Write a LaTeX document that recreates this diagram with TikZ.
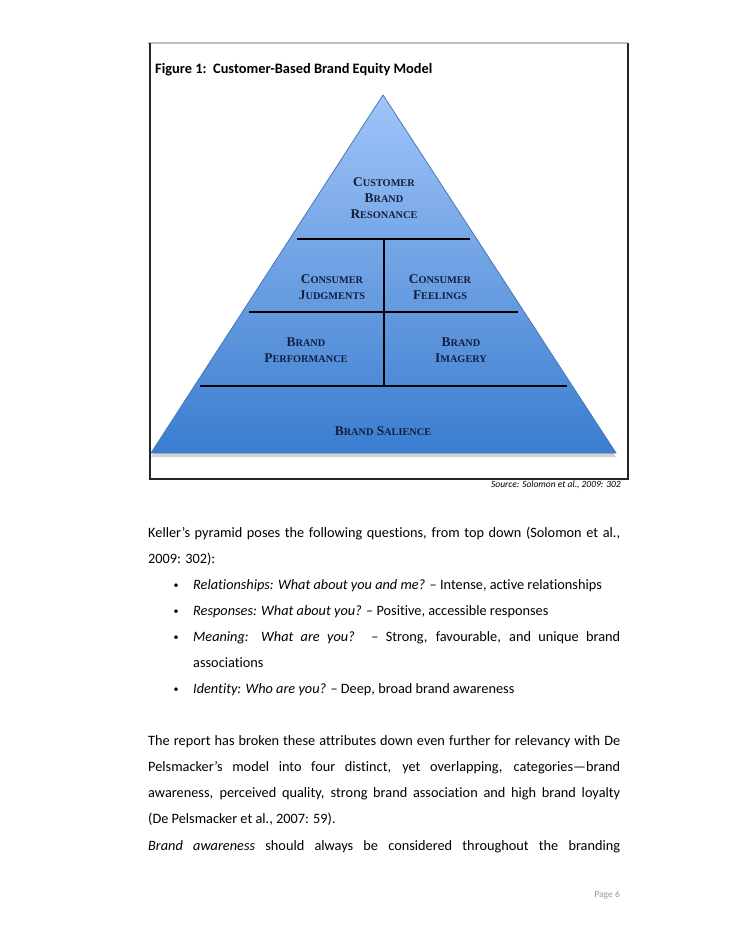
\documentclass[tikz,border=0pt]{standalone}
\usepackage{fontspec}
\setmainfont{Carlito}[Ligatures=NoCommon]
\newfontfamily\capsfont{Liberation Serif}
\usetikzlibrary{shadows}
\definecolor{pyrtop}{RGB}{160,196,248}
\definecolor{pyrbot}{RGB}{58,125,207}
\definecolor{pyredge}{RGB}{72,118,182}
\definecolor{labelnavy}{RGB}{20,30,62}
\newcommand{\pcap}[2]{{\fontsize{13.4}{16}\selectfont #1}{\fontsize{10.3}{16}\selectfont #2}}
\newcommand{\fullline}[2]{\hbox to #1pt{#2}}
\tikzset{
  level/.style={font=\capsfont\bfseries\fontsize{13}{16}\selectfont, text=labelnavy, align=center, inner sep=0pt},
  body/.style={font=\fontsize{14.3}{17}\selectfont, anchor=base west, inner sep=0pt},
  bullet/.style={font=\fontsize{10}{12}\selectfont, anchor=base, inner sep=0pt},
  divider/.style={line width=1.8pt, black}
}
\begin{document}
\begin{tikzpicture}[x=1pt, y=-1pt]
  \useasboundingbox[fill=white] (0,0) rectangle (728,942);
  \draw[black!25, line width=1.2pt] (148,43) -- (628,43);
  \draw[black!85, line width=1.2pt] (628,43) -- (628,479) -- (150,479) -- (150,43);
  \node[anchor=base west, inner sep=0pt, font=\bfseries\fontsize{14.4}{17}\selectfont] (title) at (155,74) {Figure 1:\ \ Customer-Based Brand Equity Model};

  \coordinate (apex) at (383,95);
  \coordinate (bl) at (151,453);
  \coordinate (br) at (616,453);
  \shade[top color=pyrtop, bottom color=pyrbot, draw=pyredge, line width=0.8pt,
    drop shadow={shadow xshift=0pt, shadow yshift=-4pt, opacity=0.35}]
    (apex) -- (bl) -- (br) -- cycle;

  \coordinate (t1) at (297,239);
  \coordinate (t2) at (470,239);
  \coordinate (m1) at (249,312);
  \coordinate (m2) at (518,312);
  \coordinate (b1) at (200,386);
  \coordinate (b2) at (567,386);
  \coordinate (vtop) at (384,239);
  \coordinate (vbot) at (384,386);
  \draw[divider] (t1) -- (t2);
  \draw[divider] (m1) -- (m2);
  \draw[divider] (b1) -- (b2);
  \draw[divider] (vtop) -- (vbot);

  \node[level] (resonance) at (384,198) {\pcap{C}{USTOMER}\\\pcap{B}{RAND}\\\pcap{R}{ESONANCE}};
  \node[level] (judgments) at (332,287) {\pcap{C}{ONSUMER}\\\pcap{J}{UDGMENTS}};
  \node[level] (feelings) at (440,287) {\pcap{C}{ONSUMER}\\\pcap{F}{EELINGS}};
  \node[level] (performance) at (306,350) {\pcap{B}{RAND}\\\pcap{P}{ERFORMANCE}};
  \node[level] (imagery) at (461,350) {\pcap{B}{RAND}\\\pcap{I}{MAGERY}};
  \node[level] (salience) at (383,431) {\pcap{B}{RAND} \pcap{S}{ALIENCE}};

  \node[anchor=base east, inner sep=0pt, font=\itshape\fontsize{9.5}{11}\selectfont] (source) at (621,487) {Source: Solomon et al., 2009: 302};

  \node[body] (p1a) at (148,537) {\fullline{472}{Keller’s pyramid poses the following questions, from top down (Solomon et al.,}};
  \node[body] (p1b) at (148,563) {2009: 302):};
  \node[bullet] (d1) at (176,588) {•};
  \node[body] (q1) at (193,589) {\textit{Relationships: What about you and me?} – Intense, active relationships};
  \node[bullet] (d2) at (176,614) {•};
  \node[body] (q2) at (193,615) {\textit{Responses: What about you?} – Positive, accessible responses};
  \node[bullet] (d3) at (176,640) {•};
  \node[body] (q3) at (193,641) {\fullline{427}{\textit{Meaning: What are you?} – Strong, favourable, and unique brand}};
  \node[body] (q3b) at (193,667) {associations};
  \node[bullet] (d4) at (176,692) {•};
  \node[body] (q4) at (193,693) {\textit{Identity: Who are you?} – Deep, broad brand awareness};

  \node[body] (p2a) at (148,745) {\fullline{472}{The report has broken these attributes down even further for relevancy with De}};
  \node[body] (p2b) at (148,771) {\fullline{472}{Pelsmacker’s model into four distinct, yet overlapping, categories—brand}};
  \node[body] (p2c) at (148,797) {\fullline{472}{awareness, perceived quality, strong brand association and high brand loyalty}};
  \node[body] (p2d) at (148,823) {(De Pelsmacker et al., 2007: 59).};
  \node[body] (p3a) at (148,850) {\fullline{472}{\textit{Brand awareness} should always be considered throughout the branding}};

  \node[anchor=base east, inner sep=0pt, text=black!40, font=\fontsize{9.5}{11}\selectfont] (page) at (620,897) {Page 6};
\end{tikzpicture}
\end{document}
